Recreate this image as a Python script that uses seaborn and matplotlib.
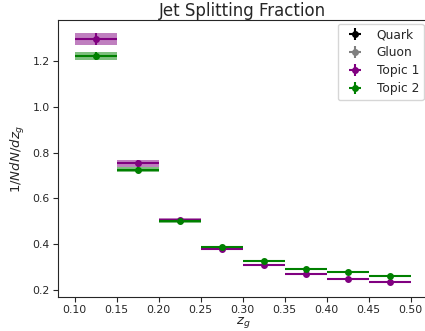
import numpy as np
import matplotlib
matplotlib.use("Agg")
import matplotlib.pyplot as plt
import seaborn as sns

bin_edges = [0.10, 0.15, 0.20, 0.25, 0.30, 0.35, 0.40, 0.45, 0.50]
topic1_vals = [1.296, 0.754, 0.508, 0.380, 0.311, 0.269, 0.247, 0.236]
topic1_errs = [0.026, 0.015, 0.007, 0.006, 0.005, 0.004, 0.004, 0.004]
topic2_vals = [1.222, 0.726, 0.500, 0.388, 0.329, 0.294, 0.277, 0.263]
topic2_errs = [0.017, 0.010, 0.006, 0.005, 0.004, 0.004, 0.003, 0.003]

sns.set_style("ticks")
plt.rcParams['font.family'] = ['DejaVu Sans']

edges = np.array(bin_edges)
centers = (edges[:-1] + edges[1:]) / 2
widths = np.diff(edges)

fig = plt.figure(figsize=(4.25, 3.31), dpi=100)
ax = fig.add_axes([58/425, 34/331, (427.6-58)/425, (297-20)/331])

ax.errorbar([], [], xerr=[], yerr=[], fmt='o', color='black', markersize=4, label='Quark')
ax.errorbar([], [], xerr=[], yerr=[], fmt='o', color='gray', markersize=4, label='Gluon')

for vals, errs, col, lab in [(topic1_vals, topic1_errs, 'purple', 'Topic 1'),
                             (topic2_vals, topic2_errs, 'green', 'Topic 2')]:
    v = np.array(vals); e = np.array(errs)
    ax.bar(centers, 2 * e, bottom=v - e, width=widths, color=col, alpha=0.5,
           linewidth=0)
    ax.errorbar(centers, v, xerr=widths / 2, yerr=e, fmt='o', color=col,
                markersize=4, elinewidth=1.5, label=lab)

ax.set_xlim(0.08, 0.52)
ax.set_ylim(0.17, 1.379)
ax.set_title("Jet Splitting Fraction", fontsize=12, pad=3)
ax.set_xlabel("$z_g$", fontsize=9.5, labelpad=0)
ax.set_ylabel("$1/NdN/dz_g$", fontsize=9.5)
ax.tick_params(labelsize=7.8, length=3.5, pad=2.5)
ax.set_xticks(bin_edges)
ax.set_xticklabels([f"{t:.2f}" for t in bin_edges])
ax.set_yticks([0.2, 0.4, 0.6, 0.8, 1.0, 1.2])
ax.legend(fontsize=8.8, loc='upper right', borderaxespad=0.3, labelspacing=0.4)

fig.savefig("out.png", dpi=100)
